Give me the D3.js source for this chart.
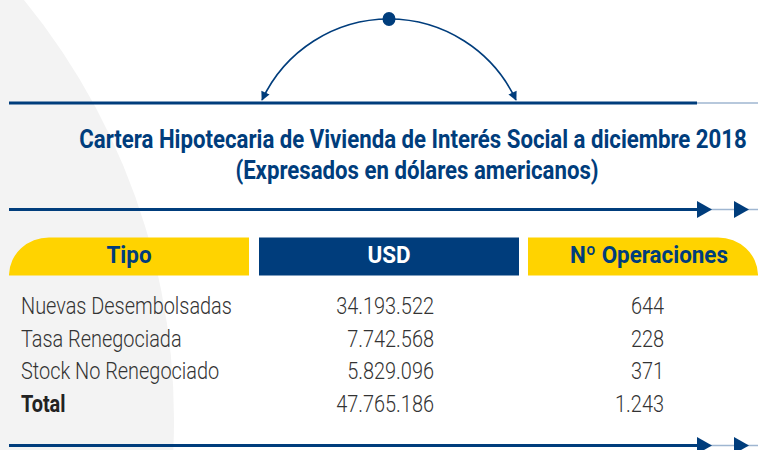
<!DOCTYPE html>
<html>
<head>
<meta charset="utf-8">
<script src="https://cdn.jsdelivr.net/npm/d3@7"></script>
<style>
  body { margin: 0; background: #fff; }
  svg { display: block; }
  .titulo { font-family: Roboto, "Noto Sans", sans-serif; font-weight: 700; font-size: 25px; fill: #003d7c; }
  .cabecera { font-family: Roboto, "Noto Sans", sans-serif; font-weight: 700; font-size: 24px; }
  .celda { font-family: Roboto, "Noto Sans", sans-serif; font-weight: 300; font-size: 23px; fill: #333; }
  .total { font-weight: 700; fill: #222; }
</style>
</head>
<body>
<div id="chart"></div>
<script>
  // datos de la tabla
  var titulo = ["Cartera Hipotecaria de Vivienda de Interés Social a diciembre 2018",
                "(Expresados en dólares americanos)"];
  var columnas = ["Tipo", "USD", "Nº Operaciones"];
  var tipos = ["Nuevas Desembolsadas", "Tasa Renegociada", "Stock No Renegociado", "Total"];
  var usd = [34193522, 7742568, 5829096, 47765186];
  var operaciones = [644, 228, 371, 1243];

  var width = 758, height = 450;
  var azul = "#003d7c", amarillo = "#ffd300", azulClaro = "#9fb6d1";

  // formato con punto de miles
  var fmt = d3.formatLocale({decimal: ",", thousands: ".", grouping: [3], currency: ["$", ""]}).format(",d");

  var svg = d3.select("#chart").append("svg")
      .attr("width", width)
      .attr("height", height);

  var defs = svg.append("defs");
  defs.append("marker")
      .attr("id", "flecha")
      .attr("viewBox", "0 0 10 10")
      .attr("refX", 9).attr("refY", 5)
      .attr("markerWidth", 10).attr("markerHeight", 9)
      .attr("markerUnits", "userSpaceOnUse")
      .attr("orient", "auto-start-reverse")
    .append("path")
      .attr("d", "M0,0L10,5L0,10Z")
      .attr("fill", azul);

  // fondo gris curvo
  svg.append("circle")
      .attr("cx", -489).attr("cy", 420).attr("r", 663)
      .attr("fill", "#f3f3f3");

  // arco superior con flechas
  var arco = d3.path();
  arco.arc(389, 159, 140, Math.PI + Math.asin(59 / 140), -Math.asin(59 / 140), false);
  svg.append("path")
      .attr("d", arco.toString())
      .attr("fill", "none")
      .attr("stroke", azul)
      .attr("stroke-width", 1.6)
      .attr("marker-start", "url(#flecha)")
      .attr("marker-end", "url(#flecha)");

  svg.append("ellipse")
      .attr("cx", 389).attr("cy", 19).attr("rx", 6.5).attr("ry", 7)
      .attr("fill", azul);

  // lineas horizontales
  function linea(y, conFlechas) {
    svg.append("line")
        .attr("x1", 697).attr("x2", width)
        .attr("y1", y).attr("y2", y)
        .attr("stroke", azulClaro).attr("stroke-width", 1.5);
    svg.append("line")
        .attr("x1", 9).attr("x2", 697)
        .attr("y1", y).attr("y2", y)
        .attr("stroke", azul).attr("stroke-width", 3);
    if (conFlechas) {
      [697, 734].forEach(function(x) {
        svg.append("path")
            .attr("d", "M" + x + "," + (y - 8.5) + "L" + (x + 15) + "," + y + "L" + x + "," + (y + 8.5) + "Z")
            .attr("fill", azul);
      });
    }
  }
  linea(103, false);
  linea(209.5, true);
  linea(445.5, true);

  // factor de condensado de la tipografia
  function factor(texto, clase, ancho) {
    var t = svg.append("text").attr("class", clase).text(texto);
    var k = ancho / t.node().getComputedTextLength();
    t.remove();
    return k;
  }
  var kTit = factor(titulo[0], "titulo", 668);
  var kCab = factor("Nº Operaciones", "cabecera", 158);
  var kCel = factor("Nuevas Desembolsadas", "celda", 211);

  // titulo
  svg.selectAll(".titulo")
      .data(titulo)
      .enter().append("text")
      .attr("class", "titulo")
      .attr("text-anchor", "middle")
      .attr("transform", function(d, i) {
        return "translate(" + (i === 0 ? 413 : 417) + "," + (148 + i * 31) + ") scale(" + kTit + ",1)";
      })
      .text(function(d) { return d; });

  // cabeceras
  var cols = [
    {x0: 9, x1: 249, fondo: amarillo, texto: azul, forma: "izq"},
    {x0: 259, x1: 519, fondo: azul, texto: "#fff", forma: "rect"},
    {x0: 528, x1: 758, fondo: amarillo, texto: azul, forma: "der"}
  ];
  var yTop = 237.5, yBot = 275.5, rx = 40, ry = 38;

  function formaCabecera(c) {
    if (c.forma === "izq") {
      return "M" + c.x0 + "," + yBot + "L" + c.x0 + "," + (yBot - 1) +
             "A" + rx + "," + ry + " 0 0 1 " + (c.x0 + rx) + "," + yTop +
             "L" + c.x1 + "," + yTop + "L" + c.x1 + "," + yBot + "Z";
    }
    if (c.forma === "der") {
      return "M" + c.x0 + "," + yBot + "L" + c.x0 + "," + yTop +
             "L" + (c.x1 - rx) + "," + yTop +
             "A" + rx + "," + ry + " 0 0 1 " + c.x1 + "," + (yBot - 1) +
             "L" + c.x1 + "," + yBot + "Z";
    }
    return "M" + c.x0 + "," + yTop + "H" + c.x1 + "V" + yBot + "H" + c.x0 + "Z";
  }

  var cab = svg.selectAll(".cab")
      .data(columnas)
      .enter().append("g")
      .attr("class", "cab");

  cab.append("path")
      .attr("d", function(d, i) { return formaCabecera(cols[i]); })
      .attr("fill", function(d, i) { return cols[i].fondo; });

  cab.append("text")
      .attr("class", "cabecera")
      .attr("text-anchor", "middle")
      .attr("fill", function(d, i) { return cols[i].texto; })
      .attr("transform", function(d, i) {
        var cx = [129, 389, 649][i];
        return "translate(" + cx + ",263) scale(" + kCab + ",1)";
      })
      .text(function(d) { return d; });

  // filas
  var y = d3.scalePoint()
      .domain(tipos)
      .range([314, 412]);

  var filas = svg.selectAll(".fila")
      .data(tipos)
      .enter().append("g")
      .attr("class", "fila");

  filas.append("text")
      .attr("class", function(d, i) { return i === tipos.length - 1 ? "celda total" : "celda"; })
      .attr("transform", function(d) { return "translate(21," + y(d) + ") scale(" + kCel + ",1)"; })
      .text(function(d) { return d; });

  filas.append("text")
      .attr("class", "celda")
      .attr("text-anchor", "end")
      .attr("transform", function(d) { return "translate(434," + y(d) + ") scale(" + kCel + ",1)"; })
      .text(function(d, i) { return fmt(usd[i]); });

  filas.append("text")
      .attr("class", "celda")
      .attr("text-anchor", "end")
      .attr("transform", function(d) { return "translate(664," + y(d) + ") scale(" + kCel + ",1)"; })
      .text(function(d, i) { return fmt(operaciones[i]); });
</script>
</body>
</html>
